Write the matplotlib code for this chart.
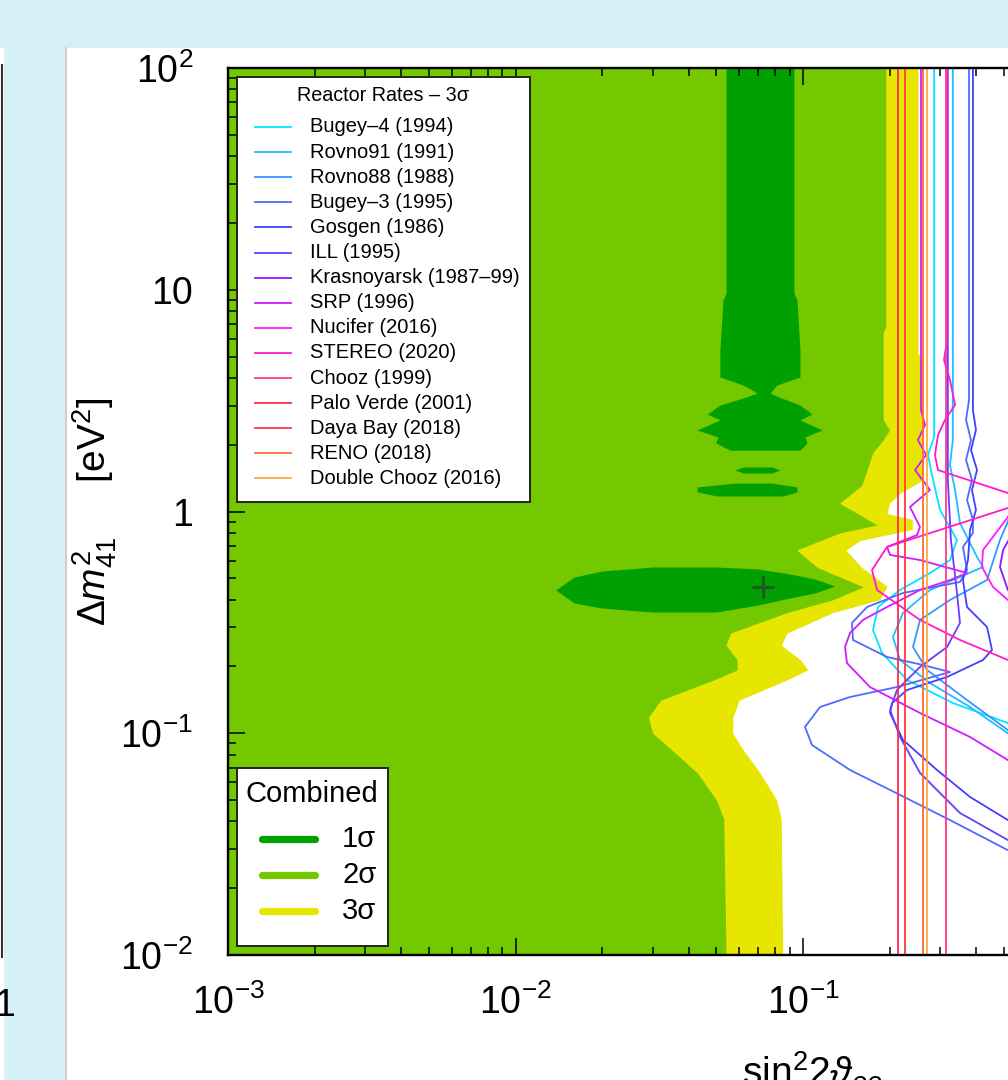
import numpy as np
import matplotlib
matplotlib.use("Agg")
import matplotlib.pyplot as plt
from matplotlib.patches import Rectangle
from matplotlib.lines import Line2D
from matplotlib.ticker import FixedLocator, FixedFormatter, LogLocator, NullFormatter

plt.rcParams['font.family'] = ['Liberation Sans', 'DejaVu Sans']
plt.rcParams['mathtext.fontset'] = 'custom'
plt.rcParams['mathtext.rm'] = 'Liberation Sans'
plt.rcParams['mathtext.it'] = 'Liberation Sans:italic'
plt.rcParams['mathtext.bf'] = 'Liberation Sans:bold'

# --- regioni combinate (sin^2 2theta, dm^2_41) ---
dm2_3s = [100, 5.2, 4.8, 1.39, 1.21, 1.09, 0.98, 0.92, 0.83, 0.74, 0.67, 0.56, 0.46,
          0.40, 0.35, 0.283, 0.25, 0.214, 0.193, 0.174, 0.141, 0.118, 0.10, 0.084,
          0.066, 0.05, 0.041, 0.01]
s2_3s = [0.251, 0.251, 0.26, 0.262, 0.2175, 0.20, 0.196, 0.24, 0.24, 0.158, 0.141, 0.16,
         0.196, 0.185, 0.127, 0.088, 0.084, 0.098, 0.104, 0.088, 0.060, 0.057, 0.057,
         0.062, 0.071, 0.081, 0.084, 0.085]

dm2_2s = [100, 6.8, 6.4, 2.6, 2.33, 2.1, 1.84, 1.31, 1.09, 0.87, 0.80, 0.67, 0.56, 0.457,
          0.40, 0.35, 0.283, 0.25, 0.214, 0.193, 0.174, 0.141, 0.118, 0.10, 0.084, 0.066,
          0.05, 0.041, 0.01]
s2_2s = [0.194, 0.194, 0.19, 0.19, 0.20, 0.19, 0.175, 0.160, 0.134, 0.181, 0.134, 0.095,
         0.112, 0.162, 0.127, 0.088, 0.056, 0.054, 0.059, 0.059, 0.049, 0.032, 0.029,
         0.030, 0.035, 0.043, 0.050, 0.053, 0.054]

# 1 sigma: banda verticale ad alto dm^2
dm2_1s_banda = [100, 9.65, 9.0, 5.35, 4.04, 3.72, 3.42, 3.27, 3.02, 2.75, 2.59, 2.33,
                2.17, 2.04, 1.89]
s2_1s_sx = [0.054, 0.054, 0.0527, 0.0514, 0.0514, 0.0619, 0.0692, 0.0628, 0.0514,
            0.0464, 0.0514, 0.0428, 0.0506, 0.0497, 0.0557]
s2_1s_dx = [0.093, 0.093, 0.0953, 0.0976, 0.0976, 0.0812, 0.0768, 0.0832, 0.0976,
            0.1075, 0.0976, 0.1165, 0.1016, 0.1032, 0.0976]
# isolette
dm2_1s_c = [1.588, 1.538, 1.491]
s2_1s_c_sx = [0.062, 0.058, 0.062]
s2_1s_c_dx = [0.078, 0.0832, 0.078]
dm2_1s_d = [1.344, 1.29, 1.225, 1.175]
s2_1s_d_sx = [0.058, 0.0428, 0.0428, 0.0502]
s2_1s_d_dx = [0.078, 0.0953, 0.0953, 0.0852]
# ellisse del best fit
s2_ell = [0.0138, 0.016, 0.02, 0.03, 0.05, 0.07, 0.09, 0.11, 0.129]
dm2_ell_su = [0.4426, 0.5066, 0.539, 0.562, 0.562, 0.5505, 0.5226, 0.496, 0.4613]
dm2_ell_giu = [0.4426, 0.3867, 0.367, 0.352, 0.352, 0.379, 0.4073, 0.429, 0.4613]

best_s2, best_dm2 = 0.0727, 0.457

# --- esperimenti ---
esperimenti = ["Bugey\u20134 (1994)", "Rovno91 (1991)", "Rovno88 (1988)", "Bugey\u20133 (1995)",
               "Gosgen (1986)", "ILL (1995)", "Krasnoyarsk (1987\u201399)", "SRP (1996)",
               "Nucifer (2016)", "STEREO (2020)", "Chooz (1999)", "Palo Verde (2001)",
               "Daya Bay (2018)", "RENO (2018)", "Double Chooz (2016)"]
colori = ['#00e5ff', '#1ebeff', '#3399ff', '#4d6bff', '#4040ff', '#6a3cff', '#8a1aff',
          '#d21aff', '#ff1aff', '#ff1ad2', '#ff3a8c', '#ff2a55', '#ff3a3a', '#ff6a3a', '#ffaa40']

bugey4_s2 = [0.286, 0.286, 0.272, 0.281, 0.2996, 0.3433, 0.3246, 0.2765, 0.2175, 0.1824,
             0.1752, 0.1883, 0.23, 0.332, 0.516, 1.08]
bugey4_dm2 = [100, 2.17, 1.80, 1.46, 1.016, 0.744, 0.604, 0.528, 0.4426, 0.371, 0.292,
              0.230, 0.174, 0.1369, 0.1112, 0.0757]

rovno91_s2 = [0.332, 0.332, 0.3246, 0.338, 0.3516, 0.403, 0.4227, 0.2765, 0.2227, 0.2056,
              0.2175, 0.2765, 0.381, 0.516, 1.08]
rovno91_dm2 = [100, 2.10, 1.62, 1.25, 0.887, 0.624, 0.562, 0.4426, 0.3486, 0.2716, 0.214,
               0.1685, 0.1313, 0.1, 0.0683]

rovno88_s2 = [0.616, 0.616, 0.4843, 0.4365, 0.3246, 0.2553, 0.2413, 0.27, 0.36, 0.516, 1.08]
rovno88_dm2 = [100, 1.538, 0.744, 0.491, 0.399, 0.3243, 0.245, 0.193, 0.1457, 0.1034, 0.0697]

bugey3_s2 = [0.378, 0.378, 0.369, 0.384, 0.369, 0.387, 0.372, 0.39, 0.39, 0.36, 0.372,
             0.3516, 0.2227, 0.167, 0.148, 0.1492, 0.196, 0.262, 0.3246, 0.2123, 0.1457,
             0.1146, 0.1016, 0.1075, 0.1457, 0.2175, 0.3246, 0.516, 1.08]
bugey3_dm2 = [100, 3.18, 2.59, 2.10, 1.707, 1.387, 1.127, 0.916, 0.80, 0.692, 0.545, 0.481,
              0.429, 0.371, 0.3143, 0.2634, 0.2208, 0.203, 0.1889, 0.1616, 0.1457, 0.1313,
              0.1067, 0.0885, 0.0683, 0.0527, 0.0406, 0.0297, 0.0187]

gosgen_s2 = [0.39, 0.39, 0.3996, 0.384, 0.403, 0.387, 0.3996, 0.381, 0.375, 0.36, 0.372,
             0.4365, 0.4544, 0.4227, 0.317, 0.23, 0.204, 0.2008, 0.2227, 0.2924, 0.381,
             0.516, 1.08]
gosgen_dm2 = [100, 2.87, 2.33, 1.894, 1.538, 1.25, 1.016, 0.825, 0.604, 0.491, 0.371,
              0.3014, 0.2374, 0.214, 0.1794, 0.1567, 0.1369, 0.1234, 0.0933, 0.0683,
              0.0516, 0.0406, 0.0247]

ill_s2 = [0.319, 0.319, 0.327, 0.3433, 0.3516, 0.317, 0.2553, 0.2123, 0.2008, 0.2175,
          0.2553, 0.3516, 0.516, 1.08]
ill_dm2 = [100, 1.387, 0.744, 0.429, 0.3143, 0.245, 0.199, 0.1567, 0.1274, 0.0962,
           0.0662, 0.0437, 0.033, 0.0218]

krasno_s2 = [0.783, 0.783, 0.5686, 0.4964, 0.4843, 0.516, 0.6672, 1.08]
krasno_dm2 = [100, 1.538, 0.916, 0.670, 0.562, 0.4426, 0.3243, 0.2374]

srp_s2 = [0.2573, 0.2573, 0.2657, 0.251, 0.268, 0.2453, 0.2765, 0.2356, 0.2553, 0.2492,
          0.196, 0.2008, 0.2553, 0.372, 0.3246, 0.2553, 0.196, 0.1617, 0.1457, 0.140,
          0.1422, 0.171, 0.2553, 0.381, 0.516, 1.08]
srp_dm2 = [100, 2.87, 2.455, 2.10, 1.80, 1.538, 1.25, 1.048, 0.851, 0.783, 0.692, 0.637,
           0.604, 0.528, 0.491, 0.4426, 0.371, 0.3243, 0.283, 0.245, 0.2073, 0.1616,
           0.1234, 0.0962, 0.0757, 0.05]

nucifer_s2 = [0.723, 0.723, 0.516, 0.4227, 0.4194, 0.458, 0.516, 0.783]
nucifer_dm2 = [100, 2.10, 0.944, 0.670, 0.562, 0.457, 0.399, 0.2634]

stereo_s2 = [0.317, 0.317, 0.3094, 0.3246, 0.338, 0.3118, 0.2948, 0.2877, 0.2948, 0.516,
             0.783, 0.516, 0.196, 0.1738, 0.181, 0.2553, 0.3516, 0.516, 1.08]
stereo_dm2 = [100, 5.93, 4.82, 3.92, 3.02, 2.59, 2.21, 1.80, 1.538, 1.212, 1.092, 1.037,
              0.692, 0.545, 0.4426, 0.3243, 0.2634, 0.214, 0.1487]

# limiti piatti (indipendenti da dm^2)
chooz_s2 = 0.315
paloverde_s2 = 0.214
dayabay_s2 = 0.226
reno_s2 = 0.262
dchooz_s2 = 0.270
dm2_range = [0.01, 100]

curve = [(bugey4_s2, bugey4_dm2), (rovno91_s2, rovno91_dm2), (rovno88_s2, rovno88_dm2),
         (bugey3_s2, bugey3_dm2), (gosgen_s2, gosgen_dm2), (ill_s2, ill_dm2),
         (krasno_s2, krasno_dm2), (srp_s2, srp_dm2), (nucifer_s2, nucifer_dm2),
         (stereo_s2, stereo_dm2),
         ([chooz_s2] * 2, dm2_range), ([paloverde_s2] * 2, dm2_range),
         ([dayabay_s2] * 2, dm2_range), ([reno_s2] * 2, dm2_range),
         ([dchooz_s2] * 2, dm2_range)]

verde1, verde2, giallo = '#00a000', '#73c800', '#e6e600'

W, H = 1008, 1080
fig = plt.figure(figsize=(W / 100, H / 100), dpi=100)
fig.patch.set_facecolor('white')


def fx(px):
    return px / W


def fy(py):
    return 1 - py / H


# sfondo della slide
fig.add_artist(Rectangle((0, fy(48)), 1, 48 / H, transform=fig.transFigure,
                         facecolor='#d4f0f6', edgecolor='none', zorder=0))
fig.add_artist(Rectangle((fx(4), 0), fx(62), fy(48), transform=fig.transFigure,
                         facecolor='#d6f1f7', edgecolor='none', zorder=0))
fig.add_artist(Line2D([fx(66), fx(66)], [0, fy(48)], transform=fig.transFigure,
                      color='#cfcfcf', lw=1.5, zorder=0))
fig.add_artist(Line2D([fx(2), fx(2)], [fy(957), fy(65)], transform=fig.transFigure,
                      color='#333333', lw=1.5, zorder=0))
fig.text(fx(-6), fy(1006), '1', fontsize=27, ha='left', va='center')

ax = fig.add_axes([fx(228), fy(955), 862.5 / W, 887 / H])
ax.set_xscale('log')
ax.set_yscale('log')
ax.set_xlim(1e-3, 1)
ax.set_ylim(1e-2, 1e2)

# regioni permesse
ax.fill_betweenx(dm2_3s, 1e-3, s2_3s, color=giallo, lw=0, zorder=1)
ax.fill_betweenx(dm2_2s, 1e-3, s2_2s, color=verde2, lw=0, zorder=1.1)
ax.fill_betweenx(dm2_1s_banda, s2_1s_sx, s2_1s_dx, color=verde1, lw=0, zorder=1.2)
ax.fill_betweenx(dm2_1s_c, s2_1s_c_sx, s2_1s_c_dx, color=verde1, lw=0, zorder=1.2)
ax.fill_betweenx(dm2_1s_d, s2_1s_d_sx, s2_1s_d_dx, color=verde1, lw=0, zorder=1.2)
ax.fill_between(s2_ell, dm2_ell_giu, dm2_ell_su, color=verde1, lw=0, zorder=1.2)
ax.plot([best_s2], [best_dm2], marker='+', ms=16, mew=2.3, color='#1f5a1f', zorder=3)

# curve di esclusione dei singoli esperimenti
for (s2, dm2), c in zip(curve, colori):
    ax.plot(s2, dm2, color=c, lw=1.3, zorder=2)

for sp in ax.spines.values():
    sp.set_linewidth(1.7)
ax.tick_params(which='both', direction='in', top=True, right=True, width=1.1, color='black')
ax.tick_params(which='major', length=12.5)
ax.tick_params(which='minor', length=6)
ax.tick_params(axis='y', which='major', pad=25, labelsize=27)
ax.tick_params(axis='x', which='major', pad=21, labelsize=27)
ax.xaxis.set_major_locator(FixedLocator([1e-3, 1e-2, 1e-1]))
ax.xaxis.set_major_formatter(FixedFormatter([r'$10^{-3}$', r'$10^{-2}$', r'$10^{-1}$']))
ax.yaxis.set_major_locator(FixedLocator([1e-2, 1e-1, 1, 10, 100]))
ax.yaxis.set_major_formatter(FixedFormatter([r'$10^{-2}$', r'$10^{-1}$', '1', '10', r'$10^{2}$']))
ax.xaxis.set_minor_locator(LogLocator(base=10, subs=np.arange(2, 10), numticks=20))
ax.yaxis.set_minor_locator(LogLocator(base=10, subs=np.arange(2, 10), numticks=20))
ax.xaxis.set_minor_formatter(NullFormatter())
ax.yaxis.set_minor_formatter(NullFormatter())

fig.text(fx(95), fy(512), r'$\Delta m^{2}_{41}$     [eV$^{2}$]', rotation=90,
         fontsize=28, ha='center', va='center')
fig.text(fx(812), fy(1050), r'$\mathrm{sin}^{2}2\vartheta_{ee}$', fontsize=28,
         ha='center', va='top')

# legenda esperimenti
fig.add_artist(Rectangle((fx(237), fy(502)), 293 / W, 425 / H, transform=fig.transFigure,
                         facecolor='white', edgecolor='#222222', lw=1.4, zorder=5))
fig.text(fx(383), fy(95), 'Reactor Rates \u2013 3\u03c3', fontsize=14.2, ha='center',
         va='center', zorder=6)
for i, (nome, c) in enumerate(zip(esperimenti, colori)):
    yy = fy(127 + 25.1 * i)
    fig.add_artist(Line2D([fx(255), fx(291)], [yy, yy], transform=fig.transFigure,
                          color=c, lw=1.3, zorder=6))
    fig.text(fx(310), yy, nome, fontsize=14.5, ha='left', va='center', zorder=6)

# legenda combinata
fig.add_artist(Rectangle((fx(237), fy(946)), 151 / W, 178 / H, transform=fig.transFigure,
                         facecolor='white', edgecolor='#222222', lw=1.4, zorder=5))
fig.text(fx(312), fy(794), 'Combined', fontsize=21, ha='center', va='center', zorder=6)
for i, (lab, c) in enumerate(zip(['1\u03c3', '2\u03c3', '3\u03c3'], [verde1, verde2, giallo])):
    yy = fy(839 + 36 * i)
    fig.add_artist(Line2D([fx(262), fx(315)], [yy, yy], transform=fig.transFigure,
                          color=c, lw=5.2, solid_capstyle='round', zorder=6))
    fig.text(fx(342), yy, lab, fontsize=21, ha='left', va='center', zorder=6)

fig.savefig('out.png', dpi=100)
